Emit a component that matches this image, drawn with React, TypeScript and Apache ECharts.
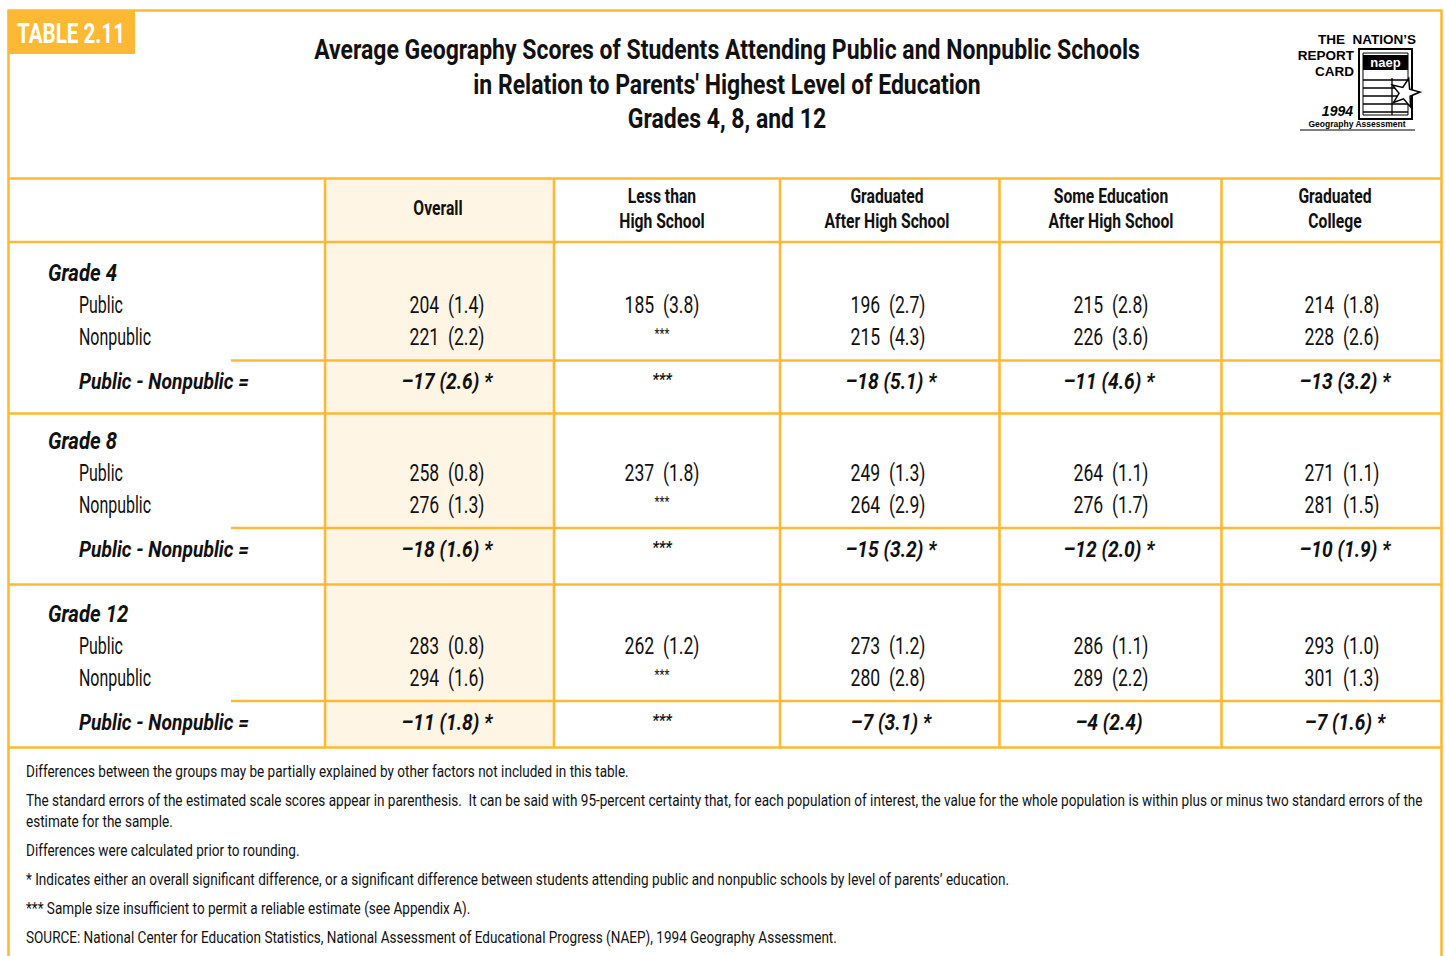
import React, { useEffect, useRef } from "react";
import * as echarts from "echarts";

// ---------------- DATA ----------------
const titleLines = [
  "Average Geography Scores of Students Attending Public and Nonpublic Schools",
  "in Relation to Parents' Highest Level of Education",
  "Grades 4, 8, and 12",
];
const tableLabel = "TABLE 2.11";
const columns = [
  ["Overall"],
  ["Less than", "High School"],
  ["Graduated", "After High School"],
  ["Some Education", "After High School"],
  ["Graduated", "College"],
];
const grades = ["Grade 4", "Grade 8", "Grade 12"];
const rowLabels = ["Public", "Nonpublic"];
const diffLabel = "Public - Nonpublic =";
const missing = "***";

const publicScores = [
  [204, 185, 196, 215, 214],
  [258, 237, 249, 264, 271],
  [283, 262, 273, 286, 293],
];
const publicSE = [
  [1.4, 3.8, 2.7, 2.8, 1.8],
  [0.8, 1.8, 1.3, 1.1, 1.1],
  [0.8, 1.2, 1.2, 1.1, 1.0],
];
const nonpublicScores = [
  [221, null, 215, 226, 228],
  [276, null, 264, 276, 281],
  [294, null, 280, 289, 301],
];
const nonpublicSE = [
  [2.2, null, 4.3, 3.6, 2.6],
  [1.3, null, 2.9, 1.7, 1.5],
  [1.6, null, 2.8, 2.2, 1.3],
];
const diffValues = [
  [-17, null, -18, -11, -13],
  [-18, null, -15, -12, -10],
  [-11, null, -7, -4, -7],
];
const diffSE = [
  [2.6, null, 5.1, 4.6, 3.2],
  [1.6, null, 3.2, 2.0, 1.9],
  [1.8, null, 3.1, 2.4, 1.6],
];
const significant = [
  [true, false, true, true, true],
  [true, false, true, true, true],
  [true, false, true, false, true],
];
const footnotes = [
  "Differences between the groups may be partially explained by other factors not included in this table.",
  "The standard errors of the estimated scale scores appear in parenthesis.  It can be said with 95-percent certainty that, for each population of interest, the value for the whole population is within plus or minus two standard errors of the",
  "estimate for the sample.",
  "Differences were calculated prior to rounding.",
  "* Indicates either an overall significant difference, or a significant difference between students attending public and nonpublic schools by level of parents\u2019 education.",
  "*** Sample size insufficient to permit a reliable estimate (see Appendix A).",
  "SOURCE: National Center for Education Statistics, National Assessment of Educational Progress (NAEP), 1994 Geography Assessment.",
];
const logoLines = ["THE  NATION\u2019S", "REPORT", "CARD", "1994", "Geography Assessment", "naep"];

// ---------------- LAYOUT ----------------
const ORANGE = "#FDB933";
const SHADE = "#FEF5E5";
const INK = "#111111";
const FONT = "Roboto";
const LW = 2.6;

const L = {
  left: 8.5,
  right: 1441.5,
  top: 10.5,
  bottom: 962,
  headTop: 178.5,
  headBottom: 242,
  colX: [325, 554, 780, 999.5, 1221.5, 1441.5],
  sectionBottoms: [413.5, 584.5, 747.5],
  partialY: [360.5, 528, 701],
  partialStart: 231,
  labelY: [273, 441, 614],
  publicY: [305, 473, 646],
  nonY: [337, 505, 678],
  diffY: [382, 550, 723],
  valueX: [447, 662, 888, 1111, 1342],
  diffX: [447, 662, 891, 1109, 1345],
  headerX: [438, 662, 887, 1111, 1335],
  gradeX: 48,
  rowX: 79,
  titleX: 727,
  titleY: [50, 85, 119],
  footX: 26,
  footY: [772, 801, 822, 851, 880, 909, 938],
};

type St = { size: number; weight: string; style: string; sx: number; color?: string };

let measureCtx: CanvasRenderingContext2D | null = null;
function measure(text: string, st: { size: number; weight: string; style: string }) {
  if (!measureCtx) measureCtx = document.createElement("canvas").getContext("2d");
  measureCtx!.font = `${st.style} ${st.weight} ${st.size}px ${FONT}`;
  return measureCtx!.measureText(text).width;
}
function mkStyle(size: number, weight: string, style: string, ref: string, refWidth: number, color?: string): St {
  const base = { size, weight, style };
  return { ...base, sx: refWidth / measure(ref, base), color };
}

function txt(text: string, x: number, y: number, st: St, align = "left") {
  return {
    type: "text",
    x,
    y,
    scaleX: st.sx,
    silent: true,
    style: {
      text,
      fontFamily: FONT,
      fontSize: st.size,
      fontWeight: st.weight,
      fontStyle: st.style,
      fill: st.color || INK,
      align,
      verticalAlign: "middle",
      textAlign: align,
      textVerticalAlign: "middle",
    },
  };
}
function line(x1: number, y1: number, x2: number, y2: number, w = LW, color = ORANGE) {
  return { type: "line", silent: true, shape: { x1, y1, x2, y2 }, style: { stroke: color, lineWidth: w } };
}

function fmtScore(s: number | null, se: number | null) {
  return s == null ? null : `${s}  (${(se as number).toFixed(1)})`;
}
function fmtDiff(d: number | null, se: number | null, sig: boolean) {
  if (d == null) return null;
  const n = d < 0 ? `\u2013${Math.abs(d)}` : `${d}`;
  return `${n} (${(se as number).toFixed(1)})${sig ? " *" : ""}`;
}

function buildOption() {
  const sTitle = mkStyle(27, "bold", "normal", titleLines[0], 826);
  const sBadge = mkStyle(28, "bold", "normal", tableLabel, 108, "#ffffff");
  const sHead = mkStyle(20, "bold", "normal", "After High School", 125);
  const sGrade = mkStyle(23, "bold", "italic", "Grade 4", 69);
  const sLabel = mkStyle(23, "normal", "normal", "Nonpublic", 72);
  const sValue = mkStyle(23, "normal", "normal", "196  (2.7)", 75);
  const sDiff = mkStyle(22, "bold", "italic", diffLabel, 170);
  const sFoot = mkStyle(16, "normal", "normal", footnotes[0], 603);
  const sStar = { ...sValue, size: 15 };
  const sStarB = { ...sDiff, size: 17 };

  const els: any[] = [];

  // overall shading
  els.push({
    type: "rect",
    silent: true,
    shape: { x: L.colX[0], y: L.headTop, width: L.colX[1] - L.colX[0], height: L.sectionBottoms[2] - L.headTop },
    style: { fill: SHADE },
  });

  // borders
  els.push(line(L.left, L.top, L.right, L.top));
  els.push(line(L.left, L.top - 1, L.left, L.bottom));
  els.push(line(L.right, L.top - 1, L.right, L.bottom));
  els.push(line(L.left, L.headTop, L.right, L.headTop));
  els.push(line(L.left, L.headBottom, L.right, L.headBottom));
  L.sectionBottoms.forEach((y) => els.push(line(L.left, y, L.right, y)));
  L.partialY.forEach((y) => els.push(line(L.partialStart, y, L.right, y)));
  L.colX.slice(0, 5).forEach((x) => els.push(line(x, L.headTop, x, L.sectionBottoms[2])));

  // badge
  els.push({ type: "rect", silent: true, shape: { x: 8, y: 10, width: 127, height: 44 }, style: { fill: ORANGE } });
  els.push(txt(tableLabel, 71, 33, sBadge, "center"));

  // title
  titleLines.forEach((t, i) => els.push(txt(t, L.titleX, L.titleY[i], sTitle, "center")));

  // headers
  columns.forEach((c, i) => {
    if (c.length === 1) els.push(txt(c[0], L.headerX[i], 208, sHead, "center"));
    else c.forEach((t, j) => els.push(txt(t, L.headerX[i], 196 + j * 25, sHead, "center")));
  });

  // body
  grades.forEach((g, gi) => {
    els.push(txt(g, L.gradeX, L.labelY[gi], sGrade));
    els.push(txt(rowLabels[0], L.rowX, L.publicY[gi], sLabel));
    els.push(txt(rowLabels[1], L.rowX, L.nonY[gi], sLabel));
    els.push(txt(diffLabel, L.rowX, L.diffY[gi], sDiff));
    for (let c = 0; c < columns.length; c++) {
      const p = fmtScore(publicScores[gi][c], publicSE[gi][c]);
      els.push(txt(p ?? missing, L.valueX[c], L.publicY[gi], p ? sValue : sStar, "center"));
      const n = fmtScore(nonpublicScores[gi][c], nonpublicSE[gi][c]);
      els.push(txt(n ?? missing, L.valueX[c], n ? L.nonY[gi] : L.nonY[gi] - 3, n ? sValue : sStar, "center"));
      const d = fmtDiff(diffValues[gi][c], diffSE[gi][c], significant[gi][c]);
      els.push(txt(d ?? missing, d ? L.diffX[c] : L.valueX[c], d ? L.diffY[gi] : L.diffY[gi] - 3, d ? sDiff : sStarB, "center"));
    }
  });

  // footnotes
  footnotes.forEach((f, i) => els.push(txt(f, L.footX, L.footY[i], sFoot)));

  // logo
  const lf = "Liberation Sans, Arial, sans-serif";
  const lt = (text: string, x: number, y: number, size: number, align: string, style = "normal", fill = "#000") => ({
    type: "text",
    x,
    y,
    silent: true,
    style: {
      text,
      fontFamily: lf,
      fontSize: size,
      fontWeight: "bold",
      fontStyle: style,
      fill,
      align,
      verticalAlign: "middle",
      textAlign: align,
      textVerticalAlign: "middle",
    },
  });
  els.push(lt(logoLines[0], 1416, 39, 13.5, "right"));
  els.push(lt(logoLines[1], 1354, 55, 13.5, "right"));
  els.push(lt(logoLines[2], 1354, 71, 13.5, "right"));
  els.push(lt(logoLines[3], 1353, 111, 14, "right", "italic"));
  els.push(lt(logoLines[4], 1357, 124, 8.5, "center"));
  els.push(line(1300, 130, 1415, 130, 1.2, "#000"));
  // document
  els.push({ type: "rect", silent: true, shape: { x: 1359, y: 49, width: 53, height: 70 }, style: { fill: "#fff", stroke: "#000", lineWidth: 2 } });
  els.push({ type: "rect", silent: true, shape: { x: 1363, y: 53, width: 45, height: 62 }, style: { fill: "none", stroke: "#000", lineWidth: 1 } });
  els.push({ type: "rect", silent: true, shape: { x: 1363, y: 55, width: 45, height: 15 }, style: { fill: "#000" } });
  els.push(lt(logoLines[5], 1385.5, 62.5, 13, "center", "normal", "#fff"));
  [80, 88, 96, 104, 112].forEach((y) => els.push(line(1363, y, 1408, y, 1.3, "#000")));
  els.push(line(1392, 78, 1392, 115, 1.3, "#000"));
  // star
  const cx = 1405, cy = 93, ro = 15, ri = 6;
  const pts: number[][] = [];
  for (let k = 0; k < 10; k++) {
    const a = -Math.PI / 2 + (k * Math.PI) / 5 + 0.25;
    const r = k % 2 === 0 ? ro : ri;
    pts.push([cx + r * Math.cos(a), cy + r * Math.sin(a)]);
  }
  els.push({ type: "polygon", silent: true, shape: { points: pts }, style: { fill: "#fff", stroke: "#000", lineWidth: 1.5 } });

  return { animation: false, graphic: { elements: els } };
}

export default function App() {
  const ref = useRef<HTMLDivElement>(null);
  useEffect(() => {
    if (!ref.current) return;
    const chart = echarts.init(ref.current, undefined, { renderer: "svg" });
    chart.setOption(buildOption() as any);
    return () => chart.dispose();
  }, []);
  return (
    <div
      ref={ref}
      style={{ position: "absolute", left: 0, top: 0, width: 1445, height: 956, background: "#fff" }}
    />
  );
}
